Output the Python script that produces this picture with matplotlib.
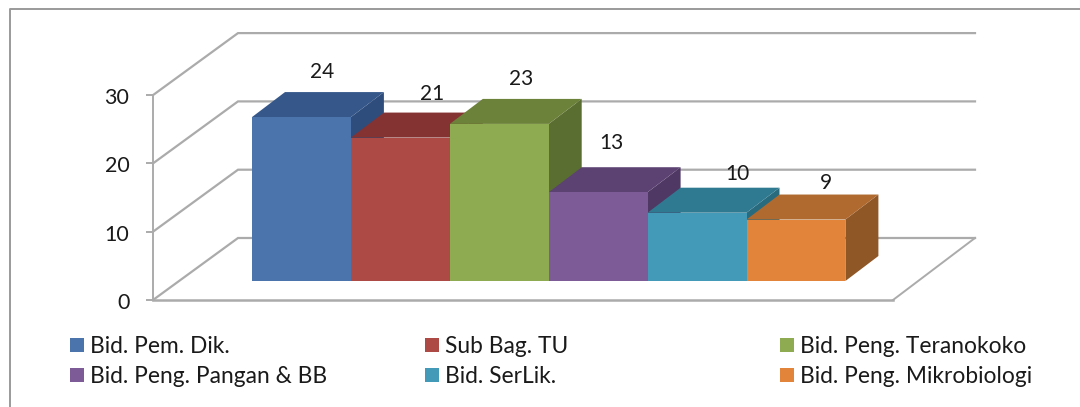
import matplotlib
matplotlib.use("Agg")
import matplotlib.pyplot as plt
from matplotlib.patches import Polygon, Patch
from matplotlib.lines import Line2D
from matplotlib.transforms import ScaledTranslation

plt.rcParams['font.family'] = ['Lato', 'DejaVu Sans']

categories = ["Bid. Pem. Dik.", "Sub Bag. TU", "Bid. Peng. Teranokoko",
              "Bid. Peng. Pangan & BB", "Bid. SerLik.", "Bid. Peng. Mikrobiologi"]
values = [24, 21, 23, 13, 10, 9]
y_ticks = [0, 10, 20, 30]

front_colors = ["#4A74AB", "#AE4A45", "#8FAB52", "#7C5B96", "#4299B8", "#E2843A"]
top_colors = ["#35578A", "#843232", "#6C8139", "#5C4273", "#2F7A90", "#B06A30"]
side_colors = ["#2E4D7C", "#722A28", "#5A6E31", "#4F3863", "#286A7E", "#8F5726"]
# label offsets from bar centre / top, in px
label_dx = [21, 32, 22, 13, 40, 30]
label_dy = [45, 44, 45, 49, 39, 37]

W, H = 1080, 407
PX_X, PX_Y = 98.9, 6.83          # pixels per category / per value unit
AX_L, AX_R, AX_B, AX_T = 153, 893, 300, 95
BAR0 = 252
fig = plt.figure(figsize=(W / 100, H / 100), dpi=100, facecolor="white")
ax = fig.add_axes([AX_L / W, 1 - AX_B / H, (AX_R - AX_L) / W, (AX_B - AX_T) / H])
ax.set_xlim((AX_L - BAR0) / PX_X, (AX_R - BAR0) / PX_X)
ax.set_ylim(0, (AX_B - AX_T) / PX_Y)
ax.patch.set_alpha(0)

GRID = "#ABABAB"
wall_dx, wall_dy = 85 / PX_X, 62 / PX_Y
right_dx = 82 / PX_X
x_left, x_right = ax.get_xlim()
for t in y_ticks:
    ax.plot([x_left, x_left + wall_dx, x_right + right_dx],
            [t, t + wall_dy, t + wall_dy], color=GRID, lw=1.6, clip_on=False, zorder=1,
            solid_joinstyle="miter")
ax.plot([x_right, x_right + right_dx], [0, wall_dy], color=GRID, lw=1.4, clip_on=False, zorder=1)

# bar depth geometry
base_v = 19 / PX_Y
d_x, d_y = 33 / PX_X, 25 / PX_Y
for i, v in enumerate(values):
    x0, x1 = i, i + 1
    b, t = base_v, base_v + v
    ax.add_patch(Polygon([(x1, b), (x1 + d_x, b + d_y), (x1 + d_x, t + d_y), (x1, t)],
                         fc=side_colors[i], ec="none", clip_on=False, zorder=3 + i))
    ax.add_patch(Polygon([(x0, t), (x1, t), (x1 + d_x, t + d_y), (x0 + d_x, t + d_y)],
                         fc=top_colors[i], ec="none", clip_on=False, zorder=3 + i))
    ax.add_patch(Polygon([(x0, b), (x1, b), (x1, t), (x0, t)],
                         fc=front_colors[i], ec="none", clip_on=False, zorder=3 + i))
    ax.annotate(str(v), xy=(i + 0.5, t), xytext=(label_dx[i] * 0.72, label_dy[i] * 0.72),
                textcoords="offset points", ha="center", va="center",
                fontsize=15, color="#1A1A1A", zorder=20, annotation_clip=False)

for s in ["top", "right"]:
    ax.spines[s].set_visible(False)
ax.spines["left"].set_bounds(0, 30)
ax.spines["left"].set_color(GRID)
ax.spines["left"].set_linewidth(1.4)
ax.spines["bottom"].set_color(GRID)
ax.spines["bottom"].set_linewidth(1.8)
ax.set_xticks([])
ax.set_yticks(y_ticks)
ax.tick_params(axis="y", length=5, width=1.4, color=GRID, labelsize=15.5,
               labelcolor="#1A1A1A", pad=12)
shift = ScaledTranslation(0, -1 / 100, fig.dpi_scale_trans)
for lab in ax.get_yticklabels():
    lab.set_transform(lab.get_transform() + shift)

# legends, one per column (row-wise entries in the original)
col_px = [70, 425, 780]
FS = 16.4
for c in range(3):
    handles = [Patch(fc=front_colors[c + 3 * r], ec="none", label=categories[c + 3 * r]) for r in range(2)]
    fig.legend(handles=handles, loc="upper left", bbox_to_anchor=(col_px[c] / W, 1 - 336 / H),
               frameon=False, fontsize=FS, borderpad=0, borderaxespad=0,
               handlelength=0.62, handleheight=0.62, handletextpad=0.26, labelspacing=0.4,
               labelcolor="#1A1A1A")

# outer frame
frame_x = [10 / W, 10 / W, 1.0]
frame_y = [0.0, 1 - 9 / H, 1 - 9 / H]
fig.add_artist(Line2D(frame_x, frame_y, color="#9A9A9A", lw=1.4, transform=fig.transFigure))

fig.savefig("out.png", dpi=100)
